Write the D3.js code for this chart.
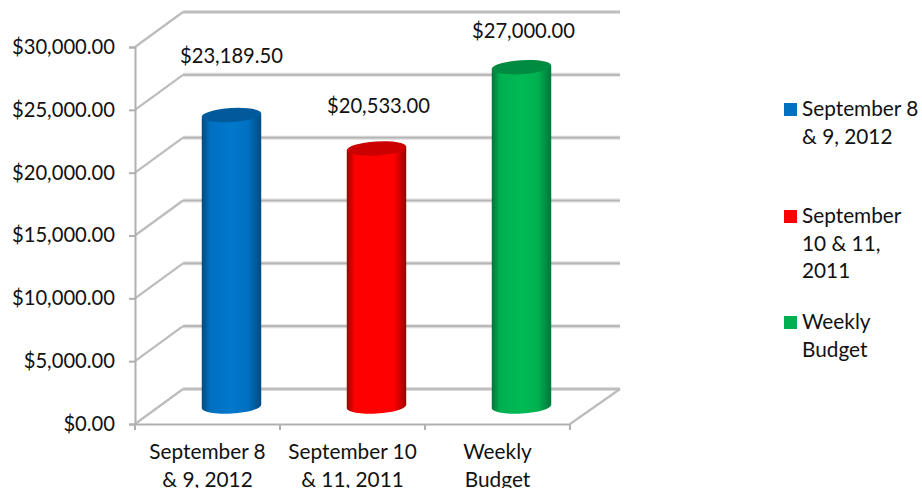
<!DOCTYPE html>
<html>
<head>
<meta charset="utf-8">
<script src="https://cdn.jsdelivr.net/npm/d3@7"></script>
<style>
  html, body { margin: 0; padding: 0; background: #fff; }
  text { font-family: Lato, "Open Sans", sans-serif; fill: #111; }
</style>
</head>
<body>
<div class="chart"></div>
<script>
const categories = ["September 8 & 9, 2012", "September 10 & 11, 2011", "Weekly Budget"];
const categoryLines = [["September 8", "& 9, 2012"], ["September 10", "& 11, 2011"], ["Weekly", "Budget"]];
const legendLines = [["September 8", "& 9, 2012"], ["September", "10 & 11,", "2011"], ["Weekly", "Budget"]];
const values = [23189.5, 20533, 27000];
const yTicks = [0, 5000, 10000, 15000, 20000, 25000, 30000];
const colors = ["#0070c0", "#ff0000", "#00b050"];
const darkColors = ["#004a80", "#a00000", "#00753a"];
const midColors = ["#0078cc", "#ff0000", "#00ba55"];
const topColors = ["#005a9c", "#cc0000", "#008c40"];

const dims = { width: 922, height: 488 };
const depth = { x: 48, y: -35 };
const numberSize = 20.2;
const wordSize = 20.8;

const svg = d3.select(".chart").append("svg")
  .attr("width", dims.width)
  .attr("height", dims.height)
  .style("display", "block");

const x = d3.scaleBand().domain(categories).range([135, 570]);
const y = d3.scaleLinear().domain([0, 30000]).range([424, 47]);
const money = d3.format("$,.2f");

// gradients for the cylinders
const defs = svg.append("defs");
categories.forEach((c, i) => {
  const g = defs.append("linearGradient").attr("id", "cyl" + i);
  g.append("stop").attr("offset", "0%").attr("stop-color", darkColors[i]);
  g.append("stop").attr("offset", "14%").attr("stop-color", colors[i]);
  g.append("stop").attr("offset", "50%").attr("stop-color", midColors[i]);
  g.append("stop").attr("offset", "78%").attr("stop-color", colors[i]);
  g.append("stop").attr("offset", "100%").attr("stop-color", darkColors[i]);
});

// back wall gridlines and side wall diagonals
const wall = svg.append("g");
const drawGrid = (selection, width, color) => {
  selection.selectAll(null).data(yTicks).join("line")
    .attr("x1", x.range()[0] + depth.x)
    .attr("x2", x.range()[1] + depth.x + 2)
    .attr("y1", d => y(d) + depth.y)
    .attr("y2", d => y(d) + depth.y)
    .attr("stroke", color)
    .attr("stroke-width", width);
};
drawGrid(wall, 4, "#dcdcdc");
drawGrid(wall, 1.6, "#b4b4b4");

wall.selectAll(".side").data(yTicks).join("line")
  .attr("class", "side")
  .attr("x1", x.range()[0])
  .attr("y1", d => y(d))
  .attr("x2", x.range()[0] + depth.x)
  .attr("y2", d => y(d) + depth.y)
  .attr("stroke", "#bcbcbc")
  .attr("stroke-width", 2.2);

// floor right edge
wall.append("line")
  .attr("x1", x.range()[1]).attr("y1", y(0))
  .attr("x2", x.range()[1] + depth.x + 2).attr("y2", y(0) + depth.y)
  .attr("stroke", "#bcbcbc").attr("stroke-width", 2.2);

// axes
const yAxis = svg.append("g")
  .attr("transform", `translate(${x.range()[0]},0)`)
  .call(d3.axisLeft(y).tickValues(yTicks).tickFormat(money).tickSize(6).tickPadding(14));
const xAxis = svg.append("g")
  .attr("transform", `translate(0,${y(0)})`)
  .call(d3.axisBottom(x).tickValues([]).tickSize(0));

[yAxis, xAxis].forEach(a => {
  a.selectAll("path, line").attr("stroke", "#b0b0b0").attr("stroke-width", 2);
});
yAxis.selectAll("text").style("font-size", numberSize + "px").attr("font-family", null);

// x tick marks sit between the categories
xAxis.selectAll(".between").data(x.domain().concat("end")).join("line")
  .attr("class", "between")
  .attr("x1", (d, i) => x.range()[0] + i * x.step())
  .attr("x2", (d, i) => x.range()[0] + i * x.step())
  .attr("y1", 0).attr("y2", 6)
  .attr("stroke", "#b0b0b0").attr("stroke-width", 2);

xAxis.selectAll(".cat").data(categoryLines).join("text")
  .attr("class", "cat")
  .attr("text-anchor", "middle")
  .style("font-size", wordSize + "px")
  .attr("transform", (d, i) => `translate(${x(categories[i]) + x.bandwidth() / 2},0)`)
  .selectAll("tspan").data(d => d).join("tspan")
  .attr("x", 0)
  .attr("y", (d, i) => 35 + i * 28)
  .text(d => d);

// cylinders
const barW = x.bandwidth() * 0.41;
const tilt = -3.5;
const rx = barW / 2;
const ry = 7;
const slope = Math.tan(tilt * Math.PI / 180) * rx;
const cx = d => x(d) + x.bandwidth() / 2 + depth.x / 2;
const baseY = y(0) + depth.y / 2;

const bars = svg.append("g").selectAll("g").data(categories).join("g");
bars.append("path")
  .attr("fill", (d, i) => `url(#cyl${i})`)
  .attr("d", (d, i) => {
    const top = y(values[i]) + depth.y / 2;
    const l = cx(d) - rx;
    const r = cx(d) + rx;
    return `M${l},${top - slope}L${r},${top + slope}L${r},${baseY + slope}` +
      `A${rx},${ry} ${tilt} 0 1 ${l},${baseY - slope}Z`;
  });
bars.append("ellipse")
  .attr("cx", cx)
  .attr("cy", (d, i) => y(values[i]) + depth.y / 2)
  .attr("rx", rx)
  .attr("ry", ry)
  .attr("fill", (d, i) => topColors[i])
  .attr("transform", (d, i) => `rotate(${tilt} ${cx(d)} ${y(values[i]) + depth.y / 2})`);

// data labels, nudged by hand like the original
bars.append("text")
  .attr("text-anchor", "middle")
  .style("font-size", numberSize + "px")
  .attr("x", (d, i) => cx(d) + [0, 2, 2][i])
  .attr("y", (d, i) => y(values[i]) + depth.y / 2 - [52, 35, 29][i])
  .text((d, i) => money(values[i]));

// legend
const legendRows = [103, 210, 316];
const legend = svg.append("g").selectAll("g").data(legendLines).join("g")
  .attr("transform", (d, i) => `translate(784,${legendRows[i]})`);
legend.append("rect")
  .attr("width", 13).attr("height", 13)
  .attr("fill", (d, i) => colors[i]);
legend.append("text")
  .style("font-size", wordSize + "px")
  .selectAll("tspan").data(d => d).join("tspan")
  .attr("x", 18)
  .attr("y", (d, i) => 13 + i * 27.5)
  .text(d => d);
</script>
</body>
</html>
